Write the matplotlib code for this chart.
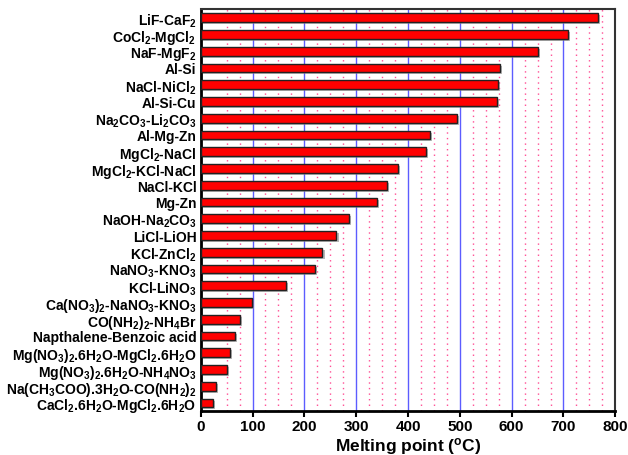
import matplotlib
matplotlib.use("Agg")
import matplotlib.pyplot as plt
import matplotlib.patheffects as pe
import numpy as np

plt.rcParams['font.family'] = ['Liberation Sans', 'DejaVu Sans']
plt.rcParams['font.weight'] = 'bold'
plt.rcParams['mathtext.fontset'] = 'custom'
plt.rcParams['mathtext.rm'] = 'Liberation Sans:bold'
plt.rcParams['mathtext.bf'] = 'Liberation Sans:bold'
plt.rcParams['mathtext.default'] = 'rm'

# top to bottom
materials = [
    'LiF-CaF$_2$',
    'CoCl$_2$-MgCl$_2$',
    'NaF-MgF$_2$',
    'Al-Si',
    'NaCl-NiCl$_2$',
    'Al-Si-Cu',
    'Na$_2$CO$_3$-Li$_2$CO$_3$',
    'Al-Mg-Zn',
    'MgCl$_2$-NaCl',
    'MgCl$_2$-KCl-NaCl',
    'NaCl-KCl',
    'Mg-Zn',
    'NaOH-Na$_2$CO$_3$',
    'LiCl-LiOH',
    'KCl-ZnCl$_2$',
    'NaNO$_3$-KNO$_3$',
    'KCl-LiNO$_3$',
    'Ca(NO$_3$)$_2$-NaNO$_3$-KNO$_3$',
    'CO(NH$_2$)$_2$-NH$_4$Br',
    'Napthalene-Benzoic acid',
    'Mg(NO$_3$)$_2$.6H$_2$O-MgCl$_2$.6H$_2$O',
    'Mg(NO$_3$)$_2$.6H$_2$O-NH$_4$NO$_3$',
    'Na(CH$_3$COO).3H$_2$O-CO(NH$_2$)$_2$',
    'CaCl$_2$.6H$_2$O-MgCl$_2$.6H$_2$O',
]
melting_points = [767, 709, 650, 577, 573, 571, 495, 443, 435, 380, 360, 340,
                  286, 262, 235, 220, 165, 99, 75, 66, 57, 51, 30, 24]

fig = plt.figure(figsize=(6.28, 4.56), dpi=100)
ax = fig.add_axes([0.3196, 0.0965, 0.6602, 0.8815])

y = np.arange(len(materials))
ax.barh(y, melting_points, height=0.52, color='#ff0000', edgecolor='#222222',
        linewidth=1.0, zorder=3,
        path_effects=[pe.SimplePatchShadow(offset=(1.5, -1.5), shadow_rgbFace='#888888', alpha=0.6),
                      pe.Normal()])

# grid lines
for v in range(100, 800, 100):
    ax.axvline(v, color='#3333ff', lw=1.0, alpha=0.8, zorder=1)
for v in range(50, 800, 25):
    if v % 100 != 0:
        ax.axvline(v, color='#ff4d94', lw=1.0, ls=(0, (1, 3)), zorder=1)

ax.set_ylim(len(materials) - 0.52, -0.52)
ax.set_xlim(0, 800)
ax.set_yticks(y)
ax.set_yticklabels(materials, fontsize=10, fontweight='bold')
ax.tick_params(axis='y', length=0, pad=3)
ax.set_xticks(range(0, 801, 100))
ax.tick_params(axis='x', labelsize=11, length=4, width=1.5, direction='out', pad=2)
for lbl in ax.get_xticklabels():
    lbl.set_fontweight('bold')

for s in ['left', 'bottom']:
    ax.spines[s].set_linewidth(2.0)
for s in ['top', 'right']:
    ax.spines[s].set_linewidth(1.5)
    ax.spines[s].set_color('#333333')

ax.set_xlabel('Melting point ($^\\mathrm{o}$C)', fontsize=12.5, fontweight='bold', labelpad=1)

fig.savefig('out.png', dpi=100)
